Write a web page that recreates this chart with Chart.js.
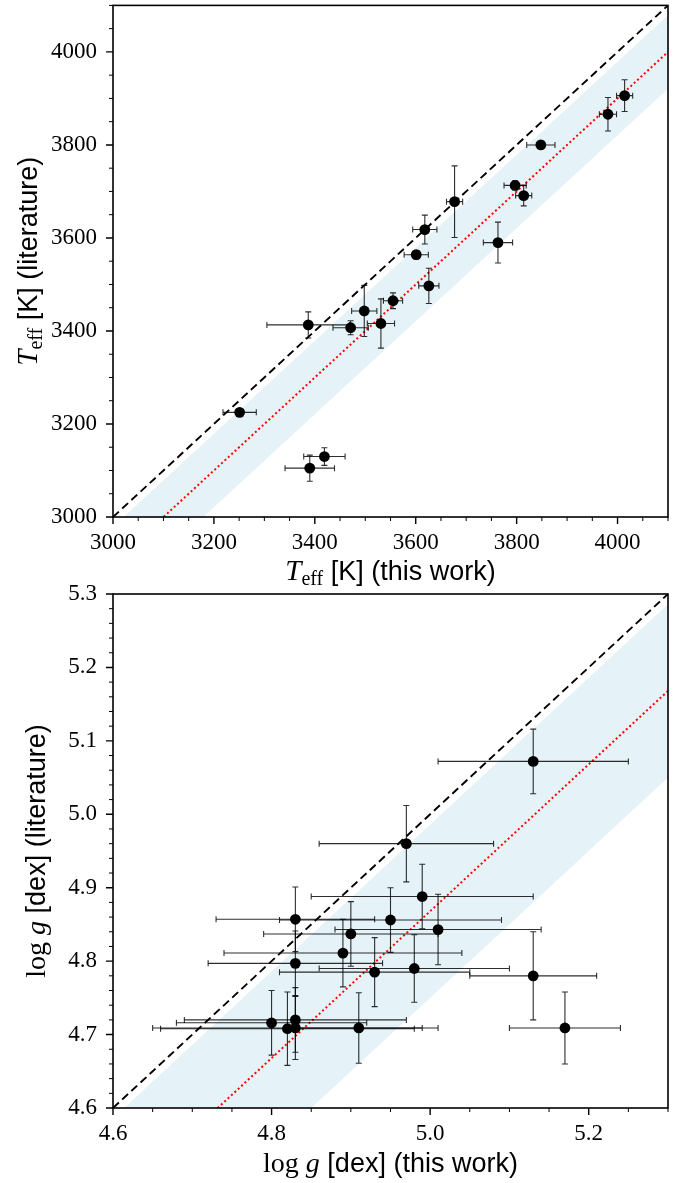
<!DOCTYPE html>
<html><head><meta charset="utf-8">
<script src="https://cdn.jsdelivr.net/npm/chart.js@4.4.1/dist/chart.umd.min.js"></script>
<style>
html,body{margin:0;padding:0;background:#fff}
body{width:686px;height:1183px;position:relative;overflow:hidden}
canvas{position:absolute;left:0}
</style></head>
<body>
<canvas id="c1" width="686" height="600" style="top:0px"></canvas>
<canvas id="c2" width="686" height="613" style="top:570px"></canvas>
<script>
// ---------- Top panel: Teff ----------
const teffThis    = [4014, 3981, 3848, 3797, 3814, 3677, 3618, 3601, 3763, 3626, 3555, 3531, 3498, 3471, 3387, 3251, 3419, 3390];
const teffLit     = [3906, 3866, 3800, 3713, 3691, 3678, 3618, 3564, 3590, 3497, 3465, 3416, 3443, 3407, 3413, 3225, 3130, 3105];
const teffThisErr = [16, 17, 28, 22, 16, 16, 24, 24, 29, 20, 19, 27, 25, 35, 82, 33, 41, 49];
const teffLitErr  = [34, 36, 4, 10, 22, 77, 31, 9, 44, 38, 17, 53, 55, 15, 28, 6, 19, 28];
const teffRange   = [3000, 4100];
const teffXTicks  = [3000, 3200, 3400, 3600, 3800, 4000];
const teffYTicks  = [3000, 3200, 3400, 3600, 3800, 4000];
const teffMinorX  = 50, teffMinorY = 50;
const teffOffset  = -100;          // mean difference (red dotted)
const teffBand    = [-21, -179];   // shaded band (upper, lower offset)

// ---------- Bottom panel: log g ----------
const loggThis    = [5.13, 4.97, 4.99, 4.95, 5.01, 4.90, 4.89, 4.83, 4.83, 4.98, 4.93, 5.13, 4.80, 4.82, 4.83, 4.83, 4.91, 5.17];
const loggLit     = [5.072, 4.960, 4.888, 4.856, 4.843, 4.837, 4.811, 4.857, 4.797, 4.790, 4.785, 4.780, 4.716, 4.708, 4.720, 4.709, 4.709, 4.709];
const loggThisErr = [0.12, 0.11, 0.14, 0.14, 0.13, 0.11, 0.15, 0.10, 0.11, 0.12, 0.12, 0.08, 0.12, 0.16, 0.14, 0.18, 0.08, 0.07];
const loggLitErr  = [0.044, 0.052, 0.044, 0.044, 0.048, 0.044, 0.046, 0.044, 0.044, 0.046, 0.047, 0.060, 0.044, 0.050, 0.044, 0.043, 0.048, 0.049];
const loggRange   = [4.6, 5.3];
const loggXTicks  = [4.6, 4.8, 5.0, 5.2];
const loggYTicks  = [4.6, 4.7, 4.8, 4.9, 5.0, 5.1, 5.2, 5.3];
const loggMinorX  = 0.05, loggMinorY = 0.02;
const loggOffset  = -0.132;
const loggBand    = [-0.014, -0.250];

const SERIF = '"Liberation Serif", "DejaVu Serif", serif';
const SANS  = '"Liberation Sans", "DejaVu Sans", sans-serif';

function minorList(range, step, majors) {
  const out = [];
  const n = Math.round((range[1] - range[0]) / step);
  for (let i = 0; i <= n; i++) {
    const v = +(range[0] + i * step).toFixed(6);
    if (!majors.some(m => Math.abs(m - v) < step / 10)) out.push(v);
  }
  return out;
}

function drawMixed(ctx, segs, cx, cy, rotate) {
  ctx.save();
  ctx.translate(cx, cy);
  if (rotate) ctx.rotate(-Math.PI / 2);
  let total = 0;
  segs.forEach(s => { ctx.font = s.font; s.w = ctx.measureText(s.text).width; total += s.w; });
  let x = -total / 2;
  ctx.textAlign = 'left'; ctx.textBaseline = 'alphabetic'; ctx.fillStyle = '#000';
  segs.forEach(s => { ctx.font = s.font; ctx.fillText(s.text, x, s.dy || 0); x += s.w; });
  ctx.restore();
}

function build(id, p) {
  const r = p.range;
  const pts = p.x.map((v, i) => ({x: v, y: p.y[i]}));
  const framePlugin = {
    id: 'frame' + id,
    beforeDatasetDraw(chart, args) {
      if (args.index !== 0) return;
      const {ctx, chartArea: a, scales: {x, y}} = chart;
      ctx.save();
      ctx.beginPath(); ctx.rect(a.left, a.top, a.right - a.left, a.bottom - a.top); ctx.clip();
      ctx.strokeStyle = 'rgba(0,0,0,0.82)';
      ctx.lineWidth = 1.1;
      const cap = 3;
      p.x.forEach((xv, i) => {
        const yv = p.y[i];
        const px = x.getPixelForValue(xv), py = y.getPixelForValue(yv);
        const x0 = x.getPixelForValue(xv - p.xe[i]), x1 = x.getPixelForValue(xv + p.xe[i]);
        const y0 = y.getPixelForValue(yv - p.ye[i]), y1 = y.getPixelForValue(yv + p.ye[i]);
        ctx.beginPath();
        ctx.moveTo(x0, py); ctx.lineTo(x1, py);
        ctx.moveTo(x0, py - cap); ctx.lineTo(x0, py + cap);
        ctx.moveTo(x1, py - cap); ctx.lineTo(x1, py + cap);
        ctx.moveTo(px, y0); ctx.lineTo(px, y1);
        ctx.moveTo(px - cap, y0); ctx.lineTo(px + cap, y0);
        ctx.moveTo(px - cap, y1); ctx.lineTo(px + cap, y1);
        ctx.stroke();
      });
      ctx.restore();
    },
    afterDraw(chart) {
      const {ctx, chartArea: a, scales: {x, y}} = chart;
      ctx.save();
      ctx.strokeStyle = '#000';
      const ticks = (scale, vals, len, w, isX) => {
        ctx.lineWidth = w;
        ctx.beginPath();
        vals.forEach(v => {
          const q = scale.getPixelForValue(v);
          if (isX) { ctx.moveTo(q, a.bottom); ctx.lineTo(q, a.bottom + len); }
          else { ctx.moveTo(a.left, q); ctx.lineTo(a.left - len, q); }
        });
        ctx.stroke();
      };
      ticks(x, p.xMajor, 7, 1.4, true);
      ticks(y, p.yMajor, 7, 1.4, false);
      ticks(x, minorList(r, p.xMinor, p.xMajor), 4, 1.0, true);
      ticks(y, minorList(r, p.yMinor, p.yMajor), 4, 1.0, false);
      ctx.lineWidth = 1.6;
      ctx.strokeRect(a.left, a.top, a.right - a.left, a.bottom - a.top);
      drawMixed(ctx, p.xTitle, (a.left + a.right) / 2, a.bottom + p.xTitleDy, false);
      drawMixed(ctx, p.yTitle, p.yTitleX, (a.top + a.bottom) / 2, true);
      ctx.restore();
    }
  };
  const tickFont = {family: SERIF, size: 23};
  return new Chart(document.getElementById(id), {
    data: {
      datasets: [
        {type: 'scatter', data: pts, pointRadius: 5.4, pointHoverRadius: 5.4,
         backgroundColor: '#000', borderWidth: 0},
        {type: 'line', data: [{x: r[0], y: r[0]}, {x: r[1], y: r[1]}],
         borderColor: '#000', borderWidth: 1.9, borderDash: [8, 4.5], pointRadius: 0, fill: false},
        {type: 'line', data: [{x: r[0], y: r[0] + p.offset}, {x: r[1], y: r[1] + p.offset}],
         borderColor: '#ff0000', borderWidth: 2, borderDash: [2, 2.6], pointRadius: 0, fill: false},
        {type: 'line', data: [{x: r[0], y: r[0] + p.band[0]}, {x: r[1], y: r[1] + p.band[0]}],
         borderColor: 'transparent', borderWidth: 0, pointRadius: 0,
         fill: '+1', backgroundColor: 'rgba(173,216,230,0.32)'},
        {type: 'line', data: [{x: r[0], y: r[0] + p.band[1]}, {x: r[1], y: r[1] + p.band[1]}],
         borderColor: 'transparent', borderWidth: 0, pointRadius: 0, fill: false}
      ]
    },
    options: {
      responsive: false, animation: false, devicePixelRatio: 1,
      layout: {padding: {top: p.padTop, right: 18, left: 0, bottom: 0}},
      plugins: {legend: {display: false}, tooltip: {enabled: false}},
      elements: {line: {tension: 0}},
      scales: {
        x: {type: 'linear', position: 'bottom', min: r[0], max: r[1],
            afterBuildTicks: s => { s.ticks = p.xMajor.map(v => ({value: v})); },
            afterFit: s => { s.height = p.xAxisH; s.paddingLeft = 0; s.paddingRight = 0; },
            grid: {display: false, drawTicks: false}, border: {display: false},
            ticks: {font: tickFont, color: '#000', padding: 12, maxRotation: 0, autoSkip: false,
                    callback: v => Number(v).toFixed(p.dec)}},
        y: {type: 'linear', position: 'left', min: r[0], max: r[1],
            afterBuildTicks: s => { s.ticks = p.yMajor.map(v => ({value: v})); },
            afterFit: s => { s.width = 113; s.paddingTop = 0; s.paddingBottom = 0; },
            grid: {display: false, drawTicks: false}, border: {display: false},
            ticks: {font: tickFont, color: '#000', padding: 16, autoSkip: false,
                    callback: v => Number(v).toFixed(p.dec)}}
      }
    },
    plugins: [framePlugin]
  });
}

build('c1', {
  x: teffThis, y: teffLit, xe: teffThisErr, ye: teffLitErr, range: teffRange,
  xMajor: teffXTicks, yMajor: teffYTicks, xMinor: teffMinorX, yMinor: teffMinorY,
  offset: teffOffset, band: teffBand, dec: 0, padTop: 2, xAxisH: 83,
  xTitleDy: 63, yTitleX: 37,
  xTitle: [{text: 'T', font: 'italic 29px ' + SERIF}, {text: 'eff', font: '20px ' + SERIF, dy: 5},
           {text: ' [K] (this work)', font: '27px ' + SANS}],
  yTitle: [{text: 'T', font: 'italic 29px ' + SERIF}, {text: 'eff', font: '20px ' + SERIF, dy: 5},
           {text: ' [K] (literature)', font: '27px ' + SANS}]
});
build('c2', {
  x: loggThis, y: loggLit, xe: loggThisErr, ye: loggLitErr, range: loggRange,
  xMajor: loggXTicks, yMajor: loggYTicks, xMinor: loggMinorX, yMinor: loggMinorY,
  offset: loggOffset, band: loggBand, dec: 1, padTop: 24, xAxisH: 75,
  xTitleDy: 64, yTitleX: 45,
  xTitle: [{text: 'log', font: '28px ' + SERIF}, {text: ' g', font: 'italic 28px ' + SERIF},
           {text: ' [dex] (this work)', font: '27px ' + SANS}],
  yTitle: [{text: 'log', font: '28px ' + SERIF}, {text: ' g', font: 'italic 28px ' + SERIF},
           {text: ' [dex] (literature)', font: '27px ' + SANS}]
});
</script>
</body></html>
